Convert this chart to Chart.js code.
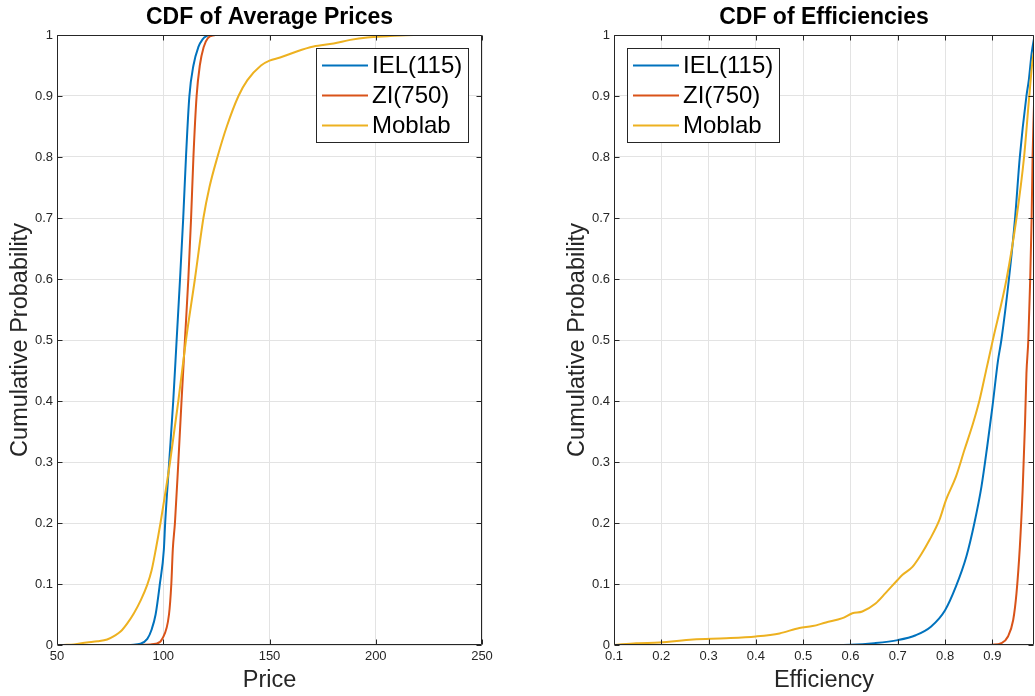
<!DOCTYPE html>
<html>
<head>
<meta charset="utf-8">
<script src="https://cdn.jsdelivr.net/npm/chart.js@4.4.1/dist/chart.umd.min.js"></script>
<style>
  html, body { margin: 0; padding: 0; background: #fff; }
  body { width: 1035px; height: 696px; position: relative; overflow: hidden; }
  canvas { position: absolute; top: 0; }
  #priceChart { left: 0; }
  #effChart { left: 557px; }
</style>
</head>
<body>
<canvas id="priceChart" width="500" height="696"></canvas>
<canvas id="effChart" width="478" height="696"></canvas>
<script>
const seriesNames = ['IEL(115)', 'ZI(750)', 'Moblab'];
const seriesColors = ['#0072BD', '#D95319', '#EDB120'];

const probTicks = [0, 0.1, 0.2, 0.3, 0.4, 0.5, 0.6, 0.7, 0.8, 0.9, 1];
const priceTicks = [50, 100, 150, 200, 250];
const effTicks = [0.1, 0.2, 0.3, 0.4, 0.5, 0.6, 0.7, 0.8, 0.9];

// CDF of average prices
const priceIelX = [84.7, 89.3, 92.5, 94.5, 96.4, 98.4, 100.3, 100.9, 102.8, 104.7, 106.3, 107.9, 109.4, 110.7, 112.3, 114.2, 116.5, 118.5, 121.3];
const priceIelP = [0, 0.002, 0.01, 0.025, 0.05, 0.1, 0.157, 0.2, 0.3, 0.4, 0.5, 0.6, 0.7, 0.8, 0.9, 0.95, 0.98, 0.993, 1];
const priceZiX = [90, 94, 96.4, 99.5, 102.7, 103.8, 104.5, 105.5, 107.1, 108.6, 110.2, 111.8, 113.1, 114.2, 115.7, 117.2, 119, 121, 124.4];
const priceZiP = [0, 0.001, 0.002, 0.01, 0.05, 0.1, 0.157, 0.2, 0.3, 0.4, 0.5, 0.6, 0.7, 0.8, 0.9, 0.95, 0.98, 0.995, 1];
const priceMobX = [53, 58, 64, 69, 73.6, 77, 79.9, 83, 86.2, 89.5, 92.5, 94.5, 96.5, 98.7, 101, 103.2, 107.1, 110.7, 114.9, 118.9, 121.7, 125.5, 129.9, 135.4, 139.6, 146, 150, 155, 162.8, 170.7, 180.2, 188, 196, 205.4, 218, 246];
const priceMobP = [0, 0.001, 0.004, 0.006, 0.009, 0.015, 0.022, 0.035, 0.052, 0.074, 0.099, 0.122, 0.157, 0.2, 0.25, 0.3, 0.4, 0.5, 0.6, 0.7, 0.75, 0.8, 0.85, 0.9, 0.926, 0.95, 0.958, 0.963, 0.973, 0.981, 0.986, 0.992, 0.996, 0.998, 1, 1];

// CDF of efficiencies
const effIelX = [0.546, 0.6, 0.65, 0.7, 0.738, 0.77, 0.8, 0.823, 0.845, 0.862, 0.877, 0.889, 0.9, 0.912, 0.919, 0.935, 0.948, 0.958, 0.972, 0.977, 0.983, 0.987, 0.99];
const effIelP = [0, 0.0005, 0.003, 0.008, 0.016, 0.03, 0.057, 0.096, 0.145, 0.2, 0.26, 0.325, 0.39, 0.467, 0.5, 0.6, 0.7, 0.8, 0.9, 0.926, 0.97, 0.99, 1];
const effZiX = [0.877, 0.9, 0.919, 0.933, 0.944, 0.951, 0.958, 0.964, 0.969, 0.972, 0.976, 0.98, 0.983, 0.985, 0.987, 0.991, 0.996];
const effZiP = [0, 0.0005, 0.003, 0.014, 0.041, 0.085, 0.16, 0.254, 0.363, 0.445, 0.5, 0.6, 0.7, 0.8, 0.86, 0.95, 1];
const effMobX = [0.101, 0.147, 0.196, 0.267, 0.337, 0.4, 0.45, 0.492, 0.52, 0.548, 0.583, 0.604, 0.625, 0.653, 0.674, 0.7, 0.71, 0.731, 0.749, 0.767, 0.788, 0.802, 0.823, 0.841, 0.859, 0.873, 0.887, 0.901, 0.93, 0.951, 0.967, 0.978, 0.985, 0.99, 0.995];
const effMobP = [0, 0.003, 0.004, 0.009, 0.011, 0.014, 0.019, 0.028, 0.031, 0.037, 0.044, 0.052, 0.055, 0.068, 0.085, 0.107, 0.115, 0.128, 0.148, 0.172, 0.205, 0.238, 0.276, 0.32, 0.363, 0.402, 0.451, 0.5, 0.6, 0.7, 0.8, 0.9, 0.959, 0.98, 1];

const FONT = '"Liberation Sans", Arial, Helvetica, sans-serif';
const AXIS_COLOR = '#262626';

function toPoints(xs, ps) {
    return xs.map((x, i) => ({ x: x, y: ps[i] }));
}

// axes box with inward ticks + legend box, drawn the MATLAB way
const matlabAxes = {
    id: 'matlabAxes',
    afterDraw(chart, args, opts) {
        const { ctx, chartArea: a, scales } = chart;
        const left = Math.round(a.left) + 0.5, right = Math.round(a.right) - 0.5;
        const top = Math.round(a.top) + 0.5, bottom = Math.round(a.bottom) - 0.5;
        ctx.save();
        ctx.strokeStyle = AXIS_COLOR;
        ctx.lineWidth = 1;
        ctx.beginPath();
        ctx.rect(left, top, right - left, bottom - top);
        scales.x.ticks.forEach(t => {
            const px = Math.round(scales.x.getPixelForValue(t.value)) + 0.5;
            ctx.moveTo(px, bottom); ctx.lineTo(px, bottom - 5);
            ctx.moveTo(px, top); ctx.lineTo(px, top + 5);
        });
        scales.y.ticks.forEach(t => {
            const py = Math.round(scales.y.getPixelForValue(t.value)) + 0.5;
            ctx.moveTo(left, py); ctx.lineTo(left + 5, py);
            ctx.moveTo(right, py); ctx.lineTo(right - 5, py);
        });
        ctx.stroke();

        // legend
        const w = 152, h = 94;
        const bx = opts.side === 'right' ? Math.round(a.right) - 14 - w : Math.round(a.left) + 13;
        const by = Math.round(a.top) + 13;
        ctx.fillStyle = '#fff';
        ctx.fillRect(bx, by, w, h);
        ctx.strokeRect(bx + 0.5, by + 0.5, w, h);
        ctx.font = '24px ' + FONT;
        ctx.textBaseline = 'middle';
        ctx.textAlign = 'left';
        chart.data.datasets.forEach((ds, i) => {
            const ry = by + 17.5 + i * 30;
            ctx.strokeStyle = ds.borderColor;
            ctx.lineWidth = 2;
            ctx.beginPath();
            ctx.moveTo(bx + 6, ry);
            ctx.lineTo(bx + 52, ry);
            ctx.stroke();
            ctx.fillStyle = '#000';
            ctx.fillText(ds.label, bx + 56, ry + 1);
        });
        ctx.restore();
    }
};

function fmtTick(v) {
    return String(Math.round(v * 10) / 10);
}

function makeChart(id, title, xTitle, xMin, xMax, xTicks, series, side, padRight) {
    const datasets = series.map((pts, i) => ({
        label: seriesNames[i],
        data: pts,
        borderColor: seriesColors[i],
        backgroundColor: seriesColors[i],
        borderWidth: 2,
        pointRadius: 0,
        cubicInterpolationMode: 'monotone',
        order: 3 - i
    }));
    return new Chart(document.getElementById(id), {
        type: 'line',
        data: { datasets },
        plugins: [matlabAxes],
        options: {
            responsive: false,
            devicePixelRatio: 1,
            animation: false,
            layout: { padding: { left: 0, right: padRight, top: 0, bottom: 0 } },
            plugins: {
                legend: { display: false },
                tooltip: { enabled: false },
                title: {
                    display: true,
                    text: title,
                    fullSize: false,
                    color: '#000',
                    font: { family: FONT, size: 23, weight: 'bold', lineHeight: 1.2 },
                    padding: { top: 4, bottom: 3.4 }
                },
                matlabAxes: { side: side }
            },
            scales: {
                x: {
                    type: 'linear',
                    min: xMin,
                    max: xMax,
                    afterBuildTicks: s => { s.ticks = xTicks.map(v => ({ value: v })); },
                    afterFit: s => { s.height = 51; },
                    grid: { color: '#e3e3e3', drawTicks: false },
                    border: { display: false },
                    ticks: { color: AXIS_COLOR, padding: 4, font: { family: FONT, size: 13 }, maxRotation: 0, callback: fmtTick },
                    title: {
                        display: true, text: xTitle, color: AXIS_COLOR,
                        font: { family: FONT, size: 23.5 }, padding: { top: 0, bottom: 1.5 }
                    }
                },
                y: {
                    type: 'linear',
                    min: 0,
                    max: 1,
                    afterBuildTicks: s => { s.ticks = probTicks.map(v => ({ value: v })); },
                    afterFit: s => { s.width = 57; },
                    grid: { color: '#e3e3e3', drawTicks: false },
                    border: { display: false },
                    ticks: { color: AXIS_COLOR, padding: 4, font: { family: FONT, size: 13 }, callback: fmtTick },
                    title: {
                        display: true, text: 'Cumulative Probability', color: AXIS_COLOR,
                        font: { family: FONT, size: 23.5 }, padding: { top: 6, bottom: 0 }
                    }
                }
            }
        }
    });
}

makeChart('priceChart', 'CDF of Average Prices', 'Price', 50, 250, priceTicks, [
    toPoints(priceIelX, priceIelP),
    toPoints(priceZiX, priceZiP),
    toPoints(priceMobX, priceMobP)
], 'right', 18);

makeChart('effChart', 'CDF of Efficiencies', 'Efficiency', 0.1, 0.988, effTicks, [
    toPoints(effIelX, effIelP),
    toPoints(effZiX, effZiP),
    toPoints(effMobX, effMobP)
], 'left', 1);
</script>
</body>
</html>
